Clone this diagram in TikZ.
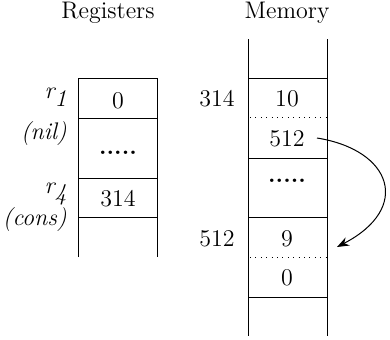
\documentclass[tikz,border=0pt]{standalone}
\usetikzlibrary{arrows.meta}
\begin{document}
\begin{tikzpicture}[x=0.5pt,y=-0.5pt,
  cell/.style={inner sep=0pt,font=\rmfamily\fontsize{12}{14}\selectfont},
  lbl/.style={inner sep=0pt,anchor=east,font=\rmfamily\fontsize{12}{14}\selectfont\itshape},
  wall/.style={line width=0.5pt},
  dotl/.style={line width=0.5pt,dash pattern=on 0.5pt off 2.2pt}]
\useasboundingbox (0,0) rectangle (390,339);
% titles
\node[cell] (treg) at (108,13) {Registers};
\node[cell] (tmem) at (287,13) {Memory};
% registers column
\draw[wall] (78,257) -- (78,78) -- (157,78) -- (157,257);
\draw[wall] (78,118) -- (157,118);
\draw[wall] (78,178) -- (157,178);
\draw[wall] (78,217) -- (157,217);
\node[cell] (r1v) at (118,101) {0};
\node[cell] (rdots) at (118,153) {\textbf{.....}};
\node[cell] (r4v) at (118,199) {314};
\node[lbl] (r1) at (67,97) {r\raisebox{-0.75ex}{1}};
\node[lbl] (nil) at (67,134) {(nil)};
\node[lbl] (r4) at (67,194) {r\raisebox{-0.75ex}{4}};
\node[lbl] (cons) at (67,220) {(cons)};
% memory column
\draw[wall] (248,39) -- (248,336);
\draw[wall] (327,39) -- (327,336);
\draw[wall] (248,78) -- (327,78);
\draw[wall] (248,158) -- (327,158);
\draw[wall] (248,217) -- (327,217);
\draw[wall] (248,297) -- (327,297);
\draw[dotl] (250,117) -- (326,117);
\draw[dotl] (250,257) -- (326,257);
\node[cell] (m10) at (287,99) {10};
\node[cell] (m512) at (287,139) {512};
\node[cell] (mdots) at (287,181) {\textbf{.....}};
\node[cell] (m9) at (287,239) {9};
\node[cell] (m0) at (287,278) {0};
\node[cell] (a314) at (217,99) {314};
\node[cell] (a512) at (217,239) {512};
% pointer
\coordinate (ps) at (317,138);
\coordinate (pe) at (337,247);
\draw[line width=0.5pt,-{Stealth[length=6pt,width=4.5pt]}] (ps) .. controls (392,150) and (412,208) .. (pe);
\end{tikzpicture}
\end{document}
